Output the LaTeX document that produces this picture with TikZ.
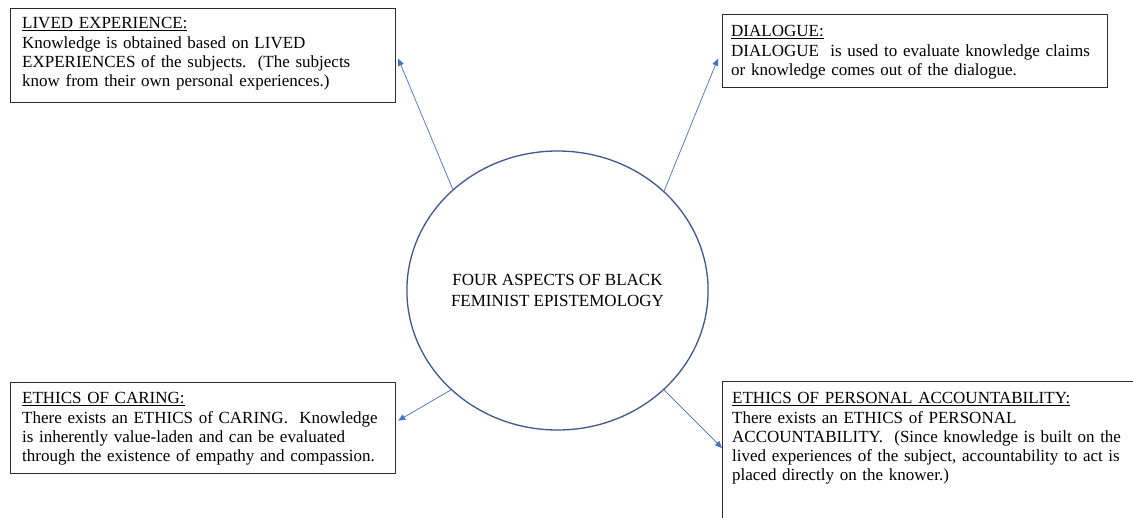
\documentclass[tikz,border=0pt]{standalone}
\usepackage{fontspec}
\setmainfont{Liberation Serif}
\usetikzlibrary{arrows.meta,shapes.geometric}
\definecolor{circblue}{RGB}{62,87,145}
\definecolor{arrblue}{RGB}{68,114,196}
\definecolor{boxline}{RGB}{45,45,45}
\begin{document}
\begin{tikzpicture}[x=1pt,y=-1pt,
  boxframe/.style={draw=boxline,line width=1.2pt,anchor=north west,inner sep=0pt},
  boxtext/.style={anchor=north west,inner sep=0pt,text width=420pt,align=left,
    font=\fontsize{17}{19.2}\selectfont},
  arr/.style={draw=arrblue,line width=0.7pt,-{Triangle[length=7pt,width=6pt]}},
]
\useasboundingbox (0,0) rectangle (1133,517);
\clip (0,0) rectangle (1133,517);
\fill[white] (0,0) rectangle (1133,517);

% central ellipse
\node[draw=circblue,line width=1.3pt,ellipse,minimum width=299pt,minimum height=279pt,
  inner sep=0pt,align=center,font=\fontsize{17}{21}\selectfont] (c) at (557.5,290.5)
  {FOUR ASPECTS OF BLACK\\FEMINIST EPISTEMOLOGY};

% boxes
\node[boxframe,minimum width=385pt,minimum height=94pt] (lived) at (10,8) {};
\node[boxtext] (livedtext) at (22,17.5)
  {\underline{LIVED EXPERIENCE:}\\
   Knowledge is obtained based on LIVED\\
   EXPERIENCES of the subjects.\ \ (The subjects\\
   know from their own personal experiences.)};

\node[boxframe,minimum width=385pt,minimum height=73pt] (dial) at (722,14) {};
\node[boxtext] (dialtext) at (731,25.5)
  {\underline{DIALOGUE:}\\
   DIALOGUE\ \ is used to evaluate knowledge claims\\
   or knowledge comes out of the dialogue.};

\node[boxframe,minimum width=385pt,minimum height=91pt] (caring) at (10,382) {};
\node[boxtext] (caringtext) at (22,392.5)
  {\underline{ETHICS OF CARING:}\\
   There exists an ETHICS of CARING.\ \ Knowledge\\
   is inherently value-laden and can be evaluated\\
   through the existence of empathy and compassion.};

\node[boxframe,minimum width=450pt,minimum height=200pt] (pers) at (722,381) {};
\node[boxtext] (perstext) at (732,392.5)
  {\underline{ETHICS OF PERSONAL ACCOUNTABILITY:}\\
   There exists an ETHICS of PERSONAL\\
   ACCOUNTABILITY.\ \ (Since knowledge is built on the\\
   lived experiences of the subject, accountability to act is\\
   placed directly on the knower.)};

% connectors
\draw[arr] (c.136) -- ([xshift=2pt,yshift=-3pt]lived.east);
\draw[arr] (c.43) -- ([xshift=-4pt,yshift=-7.5pt]dial.west);
\draw[arr] (c.223) -- ([xshift=2pt,yshift=7.5pt]caring.east);
\draw[arr] (c.317) -- ([yshift=-67pt]pers.north west);
\end{tikzpicture}
\end{document}
